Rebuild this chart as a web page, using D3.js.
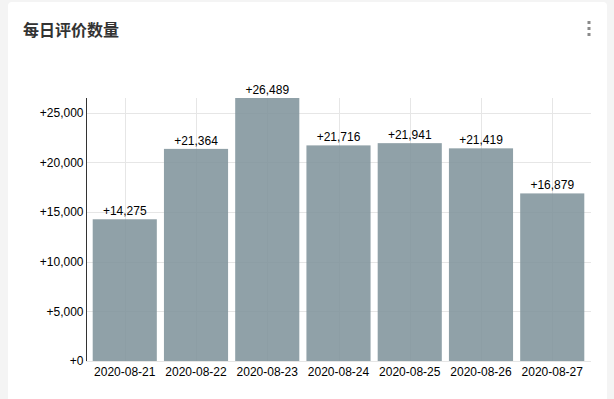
<!DOCTYPE html>
<html>
<head>
<meta charset="utf-8">
<title>每日评价数量</title>
<script src="https://cdn.jsdelivr.net/npm/d3@7"></script>
<style>
body { margin: 0; background: #f4f4f4; font-family: "Liberation Sans", Arial, sans-serif; }
.card { position: absolute; left: 8px; top: 2px; width: 599px; height: 420px; background: #fff; border-radius: 4px; }
.grid line { stroke: #e6e6e6; }
</style>
</head>
<body>
<div class="card"></div>
<svg width="614" height="399" style="position:absolute;left:0;top:0"></svg>
<script>

var dates = ["2020-08-21", "2020-08-22", "2020-08-23", "2020-08-24", "2020-08-25", "2020-08-26", "2020-08-27"];
var counts = [14275, 21364, 26489, 21716, 21941, 21419, 16879];
var yTicks = [0, 5000, 10000, 15000, 20000, 25000];

var svg = d3.select("svg");
var plotL = 86, plotR = 591, plotT = 98, plotB = 361;

var x = d3.scaleBand()
	.domain(dates)
	.range([plotL + 1, plotR - 1])
	.paddingInner(0.1)
	.paddingOuter(0.08);

var y = d3.scaleLinear()
	.domain([0, d3.max(counts)])
	.range([plotB, plotT]);

var fmt = function(v) { return "+" + d3.format(",")(v); };

// title + menu dots
svg.append("text")
	.attr("x", 23).attr("y", 36)
	.attr("font-size", 16).attr("font-weight", "bold")
	.attr("fill", "#333")
	.attr("font-family", "'Noto Sans CJK SC', sans-serif")
	.text("每日评价数量");

svg.selectAll("rect.dot").data([21, 27, 33]).enter().append("rect")
	.attr("x", 587.5).attr("y", function(d) { return d; })
	.attr("width", 3).attr("height", 3)
	.attr("fill", "#8a8a8a");

// grid
var grid = svg.append("g").attr("class", "grid");
grid.selectAll("line.h").data(yTicks).enter().append("line")
	.attr("x1", plotL).attr("x2", plotR)
	.attr("y1", function(d) { return Math.round(y(d)) + 0.5; })
	.attr("y2", function(d) { return Math.round(y(d)) + 0.5; });
grid.selectAll("line.v").data(dates).enter().append("line")
	.attr("x1", function(d) { return Math.round(x(d) + x.bandwidth() / 2) + 0.5; })
	.attr("x2", function(d) { return Math.round(x(d) + x.bandwidth() / 2) + 0.5; })
	.attr("y1", plotT).attr("y2", plotB);

// bars
svg.append("g").selectAll("rect").data(counts).enter().append("rect")
	.attr("x", function(d, i) { return x(dates[i]); })
	.attr("y", function(d) { return y(d); })
	.attr("width", x.bandwidth())
	.attr("height", function(d) { return plotB - y(d); })
	.attr("fill", "#7e919a")
	.attr("fill-opacity", 0.86);

// value labels
svg.append("g").selectAll("text").data(counts).enter().append("text")
	.attr("x", function(d, i) { return x(dates[i]) + x.bandwidth() / 2; })
	.attr("y", function(d) { return y(d) - 4; })
	.attr("text-anchor", "middle")
	.attr("font-size", 12)
	.attr("fill", "#000")
	.text(fmt);

// y axis
var yAxis = svg.append("g")
	.attr("transform", "translate(" + (plotL + 0.5) + ",0)")
	.call(d3.axisLeft(y).tickValues(yTicks).tickFormat(fmt).tickSize(0).tickPadding(3));
yAxis.select(".domain").attr("stroke", "#333").attr("d", "M0," + plotT + "V" + plotB);
yAxis.selectAll("text").attr("font-size", 12).attr("fill", "#000")
	.attr("font-family", "'Liberation Sans', Arial, sans-serif");

// x axis
var xAxis = svg.append("g")
	.attr("transform", "translate(0," + plotB + ")")
	.call(d3.axisBottom(x).tickSize(0).tickPadding(6));
xAxis.select(".domain").remove();
xAxis.selectAll("text").attr("font-size", 12).attr("fill", "#000")
	.attr("font-family", "'Liberation Sans', Arial, sans-serif");

</script>
</body>
</html>
